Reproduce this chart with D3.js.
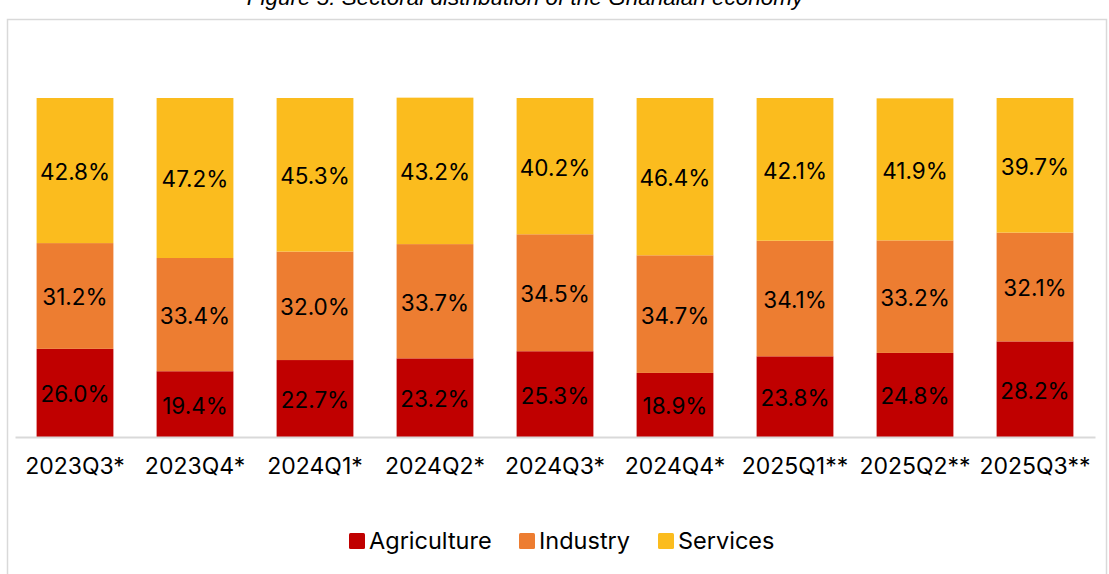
<!DOCTYPE html>
<html>
<head>
<meta charset="utf-8">
<script src="https://cdn.jsdelivr.net/npm/d3@7"></script>
<style>
  html, body { margin: 0; padding: 0; background: #fff; }
  svg { display: block; font-family: Inter, "Noto Sans", sans-serif; }
</style>
</head>
<body>
<svg id="chart" width="1109" height="574"></svg>
<script>
// Quarters and sector shares (%)
const quarters = ["2023Q3*", "2023Q4*", "2024Q1*", "2024Q2*", "2024Q3*", "2024Q4*", "2025Q1**", "2025Q2**", "2025Q3**"];
const agriculture = [26.0, 19.4, 22.7, 23.2, 25.3, 18.9, 23.8, 24.8, 28.2];
const industry    = [31.2, 33.4, 32.0, 33.7, 34.5, 34.7, 34.1, 33.2, 32.1];
const services    = [42.8, 47.2, 45.3, 43.2, 40.2, 46.4, 42.1, 41.9, 39.7];
const sectors = ["Agriculture", "Industry", "Services"];
const colors = ["#C00000", "#ED7D31", "#FBBC1E"];

const svg = d3.select("#chart");

// outer frame and title
svg.append("rect")
  .attr("x", 7.5).attr("y", 19.5).attr("width", 1099).attr("height", 570)
  .attr("fill", "none").attr("stroke", "#d9d9d9").attr("stroke-width", 1.5);

svg.append("text")
  .attr("x", 525).attr("y", 5)
  .attr("text-anchor", "middle")
  .attr("font-style", "italic")
  .attr("font-family", "Arial, 'Liberation Sans', sans-serif")
  .attr("font-size", 22.5)
  .attr("fill", "#000")
  .text("Figure 5: Sectoral distribution of the Ghanaian economy");

const x = d3.scaleBand().domain(quarters).range([15, 1095]).paddingInner(0.36).paddingOuter(0.18);
const y = d3.scaleLinear().domain([0, 100]).range([437, 98]);

const rows = quarters.map((q, i) => ({ q, Agriculture: agriculture[i], Industry: industry[i], Services: services[i] }));
const stack = d3.stack().keys(sectors)(rows);

const groups = svg.append("g").selectAll("g").data(stack).join("g")
  .attr("fill", (d, i) => colors[i]);

groups.selectAll("rect").data(d => d).join("rect")
  .attr("x", d => x(d.data.q))
  .attr("width", x.bandwidth())
  .attr("y", d => y(d[1]))
  .attr("height", d => y(d[0]) - y(d[1]));

// value labels centred in each segment
groups.selectAll("text").data(d => d.map(v => ({ v, key: d.key }))).join("text")
  .attr("x", d => x(d.v.data.q) + x.bandwidth() / 2)
  .attr("y", d => (y(d.v[0]) + y(d.v[1])) / 2)
  .attr("dy", "0.42em")
  .attr("text-anchor", "middle")
  .attr("font-size", 22.5)
  .attr("fill", "#000")
  .text(d => d.v.data[d.key].toFixed(1) + "%");

// category axis
const axis = svg.append("g").attr("transform", "translate(0,437)")
  .call(d3.axisBottom(x).tickSize(0).tickPadding(21));
axis.select(".domain").attr("stroke", "#d9d9d9").attr("stroke-width", 2);
axis.selectAll("text").attr("font-size", 23).attr("fill", "#000")
  .attr("font-family", "Inter, 'Noto Sans', sans-serif");

// legend
const legendX = [349, 519, 658];
const legend = svg.append("g").selectAll("g").data(sectors).join("g")
  .attr("transform", (d, i) => `translate(${legendX[i]},541)`);
legend.append("rect").attr("x", 0).attr("y", -8).attr("width", 16).attr("height", 16).attr("rx", 1.5)
  .attr("fill", (d, i) => colors[i]);
legend.append("text").attr("x", 20).attr("dy", "0.36em")
  .attr("font-size", 23.5).attr("fill", "#000").text(d => d);
</script>
</body>
</html>
